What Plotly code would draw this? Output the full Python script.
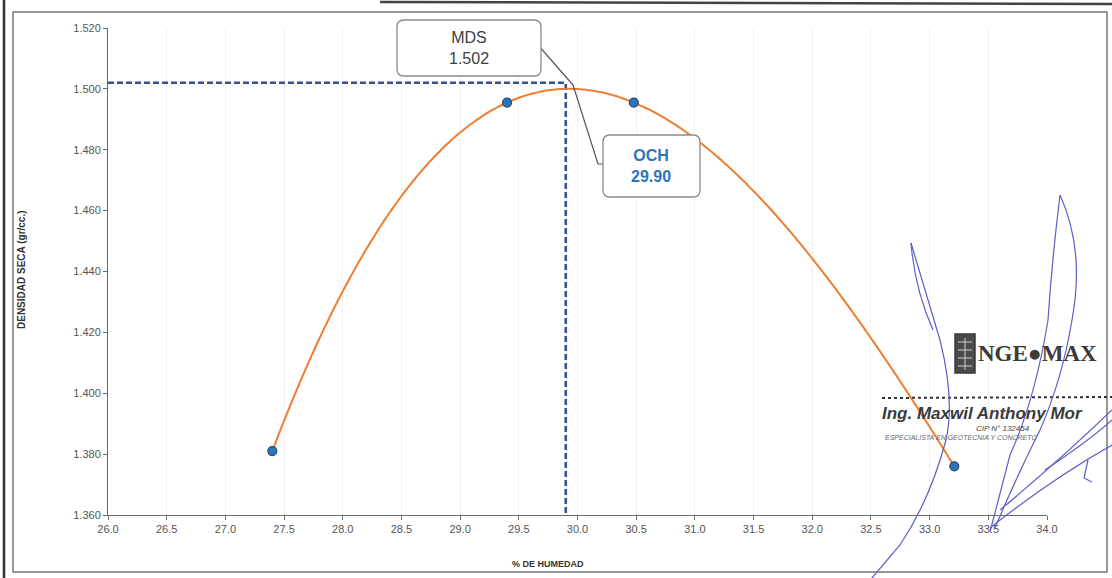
import numpy as np
import plotly.graph_objects as go

# Compaction test results (Proctor)
humedad = [27.40, 29.40, 30.48, 33.21]      # % de humedad
densidad = [1.381, 1.4955, 1.4955, 1.376]   # densidad seca (gr/cc.)
mds = 1.502   # maxima densidad seca
och = 29.90   # optimo contenido de humedad

x_ticks = [26.0 + 0.5 * i for i in range(17)]
y_ticks = [1.360 + 0.020 * i for i in range(9)]

# Polynomial trend curve through the measured points
coef = np.polyfit(humedad, densidad, 3)
xc = np.linspace(min(humedad), max(humedad), 200)
yc = np.polyval(coef, xc)

# Plot-area pixel frame (used to place paper-referenced decorations)
L, R, T, B = 108, 1047, 28, 515


def px(x):
    return (x - L) / (R - L)


def py(y):
    return (B - y) / (B - T)


def rounded_box(x0, y0, x1, y1, r=7):
    pts = (
        f"M{px(x0 + r)},{py(y0)} L{px(x1 - r)},{py(y0)} "
        f"Q{px(x1)},{py(y0)} {px(x1)},{py(y0 + r)} "
        f"L{px(x1)},{py(y1 - r)} Q{px(x1)},{py(y1)} {px(x1 - r)},{py(y1)} "
        f"L{px(x0 + r)},{py(y1)} Q{px(x0)},{py(y1)} {px(x0)},{py(y1 - r)} "
        f"L{px(x0)},{py(y0 + r)} Q{px(x0)},{py(y0)} {px(x0 + r)},{py(y0)} Z"
    )
    return dict(type="path", xref="paper", yref="paper", path=pts,
                line=dict(color="#8a8a8a", width=1.3), fillcolor="white", layer="above")


def pixel_path(d):
    parts = []
    for cmd, *pts in d:
        parts.append(cmd + " ".join(f"{px(a)},{py(b)}" for a, b in pts))
    return " ".join(parts)


def label(x, y, text, size, color, family="Liberation Sans, Arial, sans-serif",
          xanchor="center", **kw):
    return dict(xref="paper", yref="paper", x=px(x), y=py(y), text=text,
                showarrow=False, xanchor=xanchor, yanchor="middle",
                font=dict(family=family, size=size, color=color), **kw)


fig = go.Figure()

# Guide lines for MDS / OCH
fig.add_trace(go.Scatter(
    x=[x_ticks[0], och, och], y=[mds, mds, y_ticks[0]],
    mode="lines", line=dict(color="#2f5597", width=2.6, dash="6px,3px"),
    hoverinfo="skip", showlegend=False))

fig.add_trace(go.Scatter(
    x=xc, y=yc, mode="lines",
    line=dict(color="#ee7d31", width=2, shape="spline"),
    hoverinfo="skip", showlegend=False))

fig.add_trace(go.Scatter(
    x=humedad, y=densidad, mode="markers",
    marker=dict(size=9, color="#2e75b6", line=dict(color="#1f4e79", width=1.2)),
    showlegend=False))

axis_font = dict(family="Liberation Sans, Arial, sans-serif", size=11, color="#555555")

fig.update_xaxes(
    range=[26, 34], tickvals=x_ticks, ticktext=[f"{v:.1f}" for v in x_ticks],
    showgrid=True, gridcolor="#f0f0f0", gridwidth=1, zeroline=False,
    showline=True, linecolor="#6a6a6a", linewidth=1,
    ticks="outside", ticklen=4, tickcolor="#6a6a6a", tickfont=axis_font)
fig.update_yaxes(
    range=[1.36, 1.52], tickvals=y_ticks, ticktext=[f"{v:.3f}" for v in y_ticks],
    showgrid=False, zeroline=False,
    showline=True, linecolor="#6a6a6a", linewidth=1,
    ticks="outside", ticklen=4, tickcolor="#6a6a6a", tickfont=axis_font)

shapes = []
# Page frame
shapes.append(dict(type="rect", xref="paper", yref="paper",
                   x0=px(13), y0=py(12), x1=px(1107), y1=py(572),
                   line=dict(color="#777777", width=1.5), layer="below"))
shapes.append(dict(type="line", xref="paper", yref="paper",
                   x0=px(4), y0=py(0), x1=px(4), y1=py(578),
                   line=dict(color="#333333", width=2.5)))
shapes.append(dict(type="line", xref="paper", yref="paper",
                   x0=px(380), y0=py(2), x1=px(1112), y1=py(4),
                   line=dict(color="#444444", width=2.5)))

# Callout leaders
shapes.append(dict(type="path", xref="paper", yref="paper",
                   path=pixel_path([("M", (538, 45)), ("L", (573, 85))]),
                   line=dict(color="#555555", width=1.2)))
shapes.append(dict(type="path", xref="paper", yref="paper",
                   path=pixel_path([("M", (573, 85)), ("L", (598, 164)), ("L", (604, 164))]),
                   line=dict(color="#555555", width=1.2)))
shapes.append(rounded_box(397, 20, 541, 76))
shapes.append(rounded_box(603, 135, 700, 197))

# Stamp: dotted rule and logo block
shapes.append(dict(type="line", xref="paper", yref="paper",
                   x0=px(882), y0=py(398), x1=px(1112), y1=py(397),
                   line=dict(color="#333333", width=2, dash="dot")))
shapes.append(dict(type="rect", xref="paper", yref="paper",
                   x0=px(955), y0=py(334), x1=px(975), y1=py(373),
                   line=dict(color="#3a3a3a", width=1.5), fillcolor="#4a4a4a"))
for yy in (342, 350, 358, 366):
    shapes.append(dict(type="line", xref="paper", yref="paper",
                       x0=px(958), y0=py(yy), x1=px(972), y1=py(yy),
                       line=dict(color="#d0d0d0", width=1)))
shapes.append(dict(type="line", xref="paper", yref="paper",
                   x0=px(965), y0=py(338), x1=px(965), y1=py(370),
                   line=dict(color="#d0d0d0", width=1)))

# Signature strokes
sig = dict(color="#5b5fc7", width=1.2)
strokes = [
    [("M", (911, 243)), ("Q", (928, 300), (940, 340)), ("Q", (955, 400), (946, 440)),
     ("Q", (930, 500), (900, 545)), ("L", (872, 578))],
    [("M", (911, 243)), ("Q", (915, 290), (933, 330))],
    [("M", (1060, 195)), ("Q", (1085, 250), (1072, 320)), ("Q", (1062, 380), (1040, 430)),
     ("Q", (1015, 480), (995, 528))],
    [("M", (1060, 195)), ("Q", (1052, 260), (1048, 320)), ("Q", (1035, 400), (1010, 455)),
     ("L", (990, 532))],
    [("M", (990, 528)), ("Q", (1050, 480), (1112, 445))],
    [("M", (1000, 510)), ("Q", (1060, 460), (1112, 410))],
    [("M", (1045, 470)), ("Q", (1090, 440), (1112, 420))],
    [("M", (1088, 460)), ("L", (1084, 478)), ("L", (1092, 482))],
]
for s in strokes:
    shapes.append(dict(type="path", xref="paper", yref="paper",
                       path=pixel_path(s), line=sig, layer="above"))

annotations = [
    label(469, 48, "MDS<br>1.502", 16, "#404040"),
    label(651, 166, f"<b>OCH<br>{och:.2f}</b>", 16, "#2e75b6"),
    label(21, 270, "<b>DENSIDAD SECA (gr/cc.)</b>", 10, "#333333", textangle=-90),
    label(548, 564, "<b>% DE HUMEDAD</b>", 9, "#333333"),
    label(976, 353, "<b>NGE●MAX</b>", 23, "#3a3a3a",
          family="Liberation Serif, serif", xanchor="left"),
    label(880, 413, "<b><i>Ing. Maxwil Anthony Mor</i></b>", 17, "#3a3a3a",
          xanchor="left"),
    label(1003, 428, "<i>CIP N° 132454</i>", 8, "#444444"),
    label(883, 438, "<i>ESPECIALISTA EN GEOTECNIA Y CONCRETO</i>", 7, "#666666",
          xanchor="left"),
]

fig.update_layout(
    width=1112, height=578,
    margin=dict(l=L, r=1112 - R, t=T, b=578 - B),
    paper_bgcolor="white", plot_bgcolor="white",
    shapes=shapes, annotations=annotations,
    showlegend=False,
)

fig.write_html("out.html")
